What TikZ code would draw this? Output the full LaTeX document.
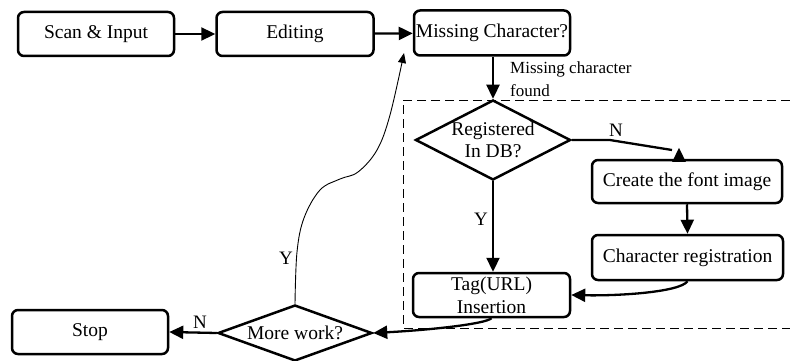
\documentclass[tikz,border=0pt]{standalone}
\usepackage{fontspec}
\setmainfont{Liberation Serif}
\usetikzlibrary{shapes.geometric,arrows.meta,calc}

\tikzset{
  box/.style={draw, line width=2.5pt, rounded corners=6pt, inner sep=0pt,
    minimum height=44pt, font=\fontsize{19.5}{22}\selectfont, align=center},
  decide/.style={draw, line width=2.5pt, diamond, inner sep=0pt},
  dtext/.style={font=\fontsize{19.5}{22.5}\selectfont, align=center},
  conn/.style={line width=2.3pt, -{Triangle[length=14pt,width=13pt]}},
  thinconn/.style={line width=0.9pt, -{Triangle[length=10pt,width=8pt]}},
  lbl/.style={font=\fontsize{19}{21}\selectfont, inner sep=0pt},
  note/.style={font=\fontsize{17}{23}\selectfont, inner sep=0pt, align=left},
  region/.style={line width=1pt, dash pattern=on 9pt off 5pt}
}

\begin{document}
\begin{tikzpicture}[x=1pt, y=-1pt]
  \useasboundingbox (0,0) rectangle (790,361);

  % main line of boxes
  \node[box, minimum width=156pt] (scan) at (96,34) {Scan \& Input};
  \node[box, minimum width=157pt] (edit) at (295,34) {Editing};
  \node[box, minimum width=156pt, minimum height=45pt] (miss) at (492,33) {Missing Character?};

  % dashed region around the lookup steps
  \draw[region] (790,100) -- (403,100) -- (403,328) -- (790,328);

  % decision and processing steps
  \node[decide, minimum width=155pt, minimum height=80pt,
        label={[dtext]center:Registered\\In DB?}] (reg) at (493,140) {};
  \node[box, minimum width=190pt, minimum height=43pt] (create) at (687,181.5) {Create the font image};
  \node[box, minimum width=191pt, minimum height=45pt] (charreg) at (687.5,257.5) {Character registration};
  \node[box, minimum width=157pt, font=\fontsize{19.5}{23}\selectfont] (tag) at (491.5,295) {Tag(URL)\\Insertion};
  \node[decide, minimum width=154pt, minimum height=56pt,
        label={[dtext]center:More work?}] (more) at (295,333) {};
  \node[box, minimum width=156pt] (stop) at (90,332) {Stop};

  % connectors
  \draw[conn] (scan) -- (edit);
  \draw[conn] (edit) -- (miss);
  \draw[conn] (miss.south -| reg.north) -- (reg.north);
  \node[note, anchor=north west] (found) at (510,62) {Missing character\\found};

  \draw[conn] (reg.east) -- ++(38,0) -- (672,150)
              ([xshift=-8pt]create.north) -- ++(0,-11);
  \node[lbl] (nlbl1) at (616,130) {N};

  \draw[conn] (create.south) -- (charreg.north);
  \draw[conn] (reg.south) -- (reg.south |- tag.north);
  \node[lbl] (ylbl1) at (481,219) {Y};

  \draw[conn] (charreg.south) .. controls (680,292) and (620,296) .. (tag.east);
  \draw[conn] (tag.south) .. controls (485,324) and (430,330) .. (more.east);

  \draw[conn] (more.west) -- (stop.east);
  \node[lbl] (nlbl2) at (200,322) {N};

  % loop back for more work
  \coordinate (back) at (404,53);
  \draw[thinconn] plot[smooth, tension=0.6] coordinates
    {(more.north) (297,252) (304,218) (320,190) (340,179) (358,172) (377,150) (390,115) (back)};
  \node[lbl] (ylbl2) at (286,258) {Y};
\end{tikzpicture}
\end{document}
